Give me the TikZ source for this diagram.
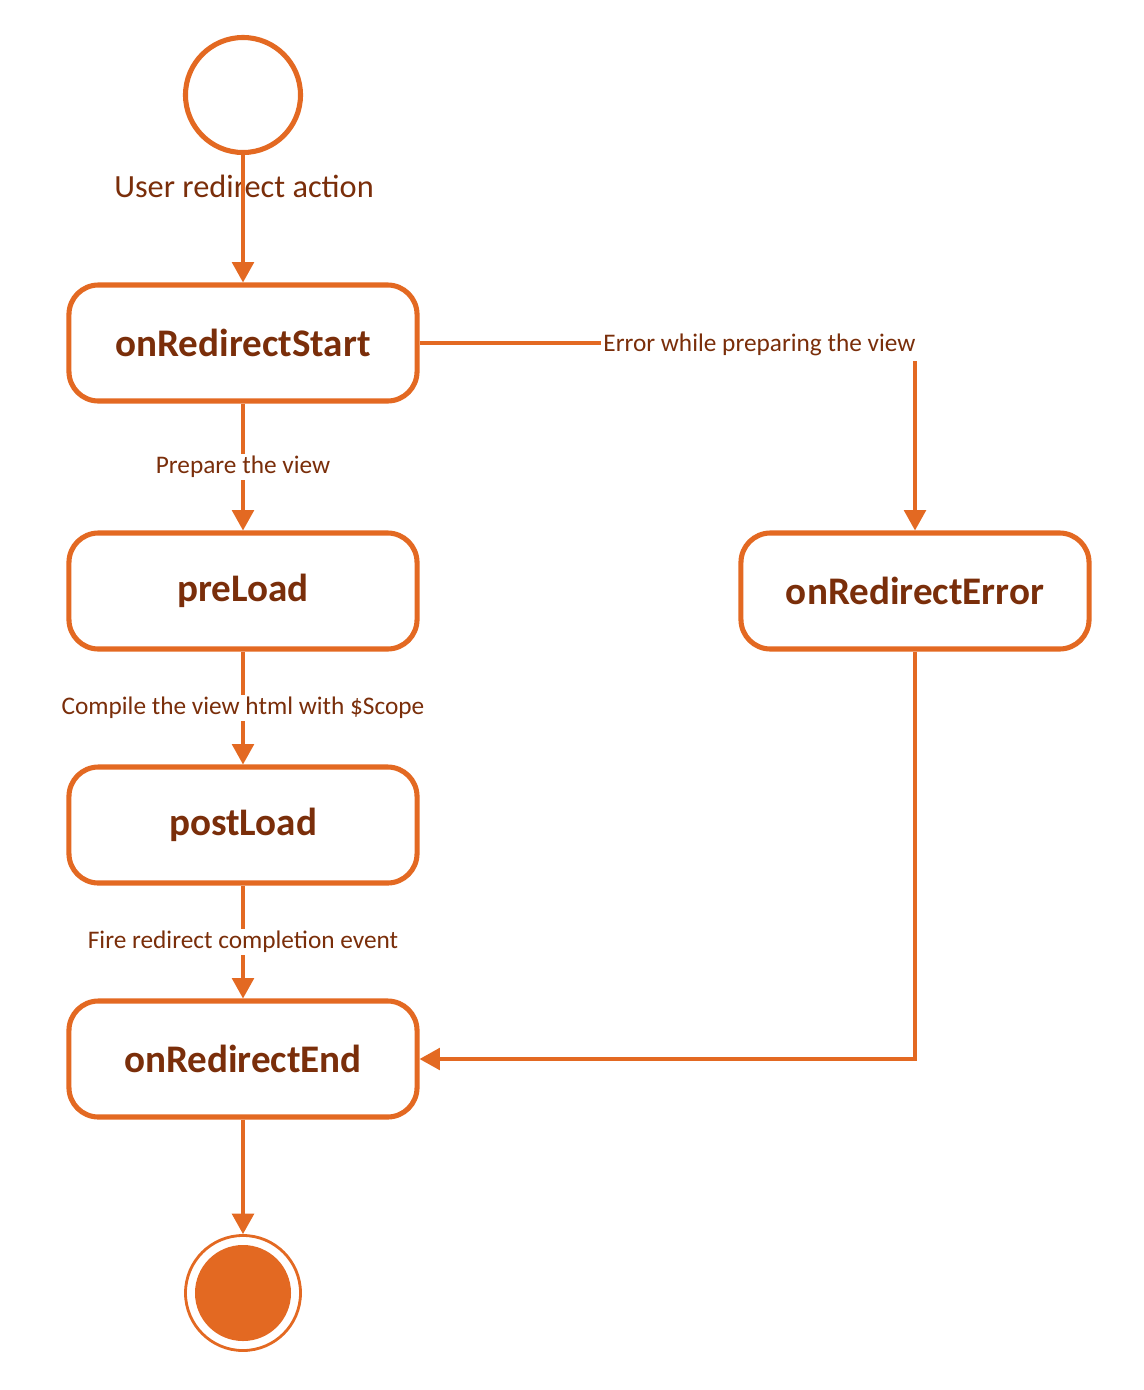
\documentclass[tikz,border=0pt]{standalone}
\usepackage{fontspec}
\setmainfont{Carlito}
\usepackage{xcolor}
\usetikzlibrary{positioning,arrows.meta,calc}
\definecolor{umlorange}{RGB}{227,105,34}
\definecolor{umltext}{RGB}{122,46,10}

\begin{document}
\begin{tikzpicture}[
    x=0.025cm,y=-0.025cm,
    state/.style={draw=umlorange,line width=3.6pt,rounded corners=21pt,minimum width=8.7cm,minimum height=2.9cm,
      text=umltext,font=\fontsize{27.8}{32}\selectfont\bfseries},
    initial/.style={circle,draw=umlorange,line width=3.6pt,minimum size=2.875cm,inner sep=0pt},
    final/.style={circle,draw=umlorange,line width=2pt,minimum size=2.875cm,inner sep=0pt},
    dot/.style={circle,fill=umlorange,minimum size=2.4cm,inner sep=0pt},
    arr/.style={-{Triangle[width=15.5pt,length=14.5pt]},draw=umlorange,line width=2.3pt},
    lbl/.style={text=umltext,font=\fontsize{18}{21}\selectfont,fill=white,inner sep=1.5pt}
  ]
    \useasboundingbox (0,0) rectangle (1144,1390);
    \node[initial] (init) at (243,95) {};
    \node[state] (rs) at (243,343) {onRedirectStart};
    \node[state] (pre) at (243,591) {preLoad};
    \node[state] (post) at (243,825) {postLoad};
    \node[state] (re) at (243,1059) {onRedirectEnd};
    \node[state] (err) at (915,591) {onRedirectError};
    \node[final] (fin) at (243,1293) {};
    \node[dot] (findot) at (fin) {};
    \node[text=umltext,font=\fontsize{23}{27}\selectfont] (ulab) at (244,186) {User redirect action};
    \draw[arr] (init) -- (rs);
    \draw[arr] (rs) -- node[lbl] {Prepare the view} (pre);
    \draw[arr] (pre) -- node[lbl] {Compile the view html with \$Scope} (post);
    \draw[arr] (post) -- node[lbl] {Fire redirect completion event} (re);
    \draw[arr] (rs.east) -| node[lbl,anchor=east,pos=0.5,xshift=3pt,yshift=-1pt,inner ysep=4pt] {Error while preparing the view} (err.north);
    \draw[arr] (err.south) |- (re.east);
    \draw[arr] (re) -- (fin);
  \end{tikzpicture}
\end{document}
